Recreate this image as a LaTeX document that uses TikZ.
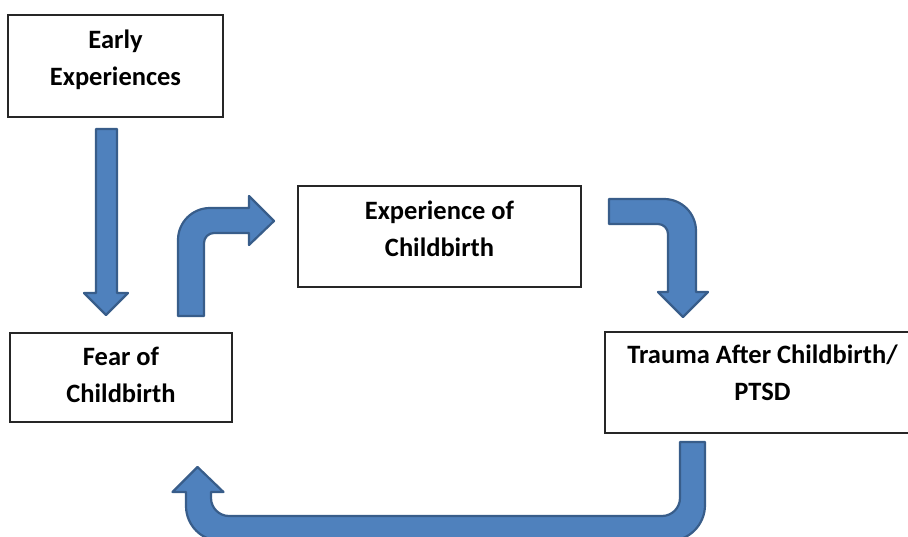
\documentclass[tikz,border=0pt]{standalone}
\usepackage{fontspec}
\setmainfont{Carlito}
\usepackage{tikz}
\usetikzlibrary{positioning,calc}
\definecolor{arrowfill}{RGB}{79,129,189}
\definecolor{arrowline}{RGB}{56,93,138}

\begin{document}
\begin{tikzpicture}[x=1pt, y=-1pt,
	box/.style={draw=black!85, line width=1.1pt, inner sep=0pt},
	boxtext/.style={font=\fontsize{26.5}{37.5}\selectfont\bfseries, align=center, inner sep=0pt},
	blockarrow/.style={fill=arrowfill, draw=arrowline, line width=2.2pt, line join=round}]
\useasboundingbox (0,0) rectangle (908,536);
\clip (0,0) rectangle (908,536);

% The four boxes, each drawn as an empty frame with its text on top.
\node[box, minimum width=215, minimum height=102] (early) at (115.5,66) {};
\node[box, minimum width=283, minimum height=101] (exper) at (439.5,236.5) {};
\node[box, minimum width=222, minimum height=89] (fear) at (121,377.5) {};
\node[box, minimum width=315, minimum height=101] (trauma) at (762.5,382.5) {};

\node[boxtext] (earlytxt) at (115.5,60) {Early\\Experiences};
\node[boxtext] (expertxt) at (439.5,229) {Experience of\\Childbirth};
\node[boxtext] (feartxt) at (121,375) {Fear of\\Childbirth};
\node[boxtext] (traumatxt) at (762.5,373) {Trauma After Childbirth/\\PTSD};

% Straight block arrow down from the first box.
\draw[blockarrow] (96,129) -- (117,129) -- (117,293) -- (128,293) -- (106,315)
	-- (84,293) -- (96,293) -- cycle;

% Bent arrow going up and then to the right.
\draw[blockarrow] (178,316) -- (178,240) .. controls (178,222.3) and (192.3,208) .. (210,208)
	-- (249,208) -- (249,196) -- (274,221) -- (249,245) -- (249,233) -- (214,233)
	.. controls (208.5,233) and (204,237.5) .. (204,243) -- (204,316) -- cycle;

% Bent arrow going right and then down.
\draw[blockarrow] (609,199) -- (664,199) .. controls (681.7,199) and (696,213.3) .. (696,231)
	-- (696,292) -- (708,292) -- (683,317) -- (658,292) -- (668,292) -- (668,234)
	.. controls (668,228.5) and (663.5,224) .. (658,224) -- (609,224) -- cycle;

% U-turn arrow along the bottom, back up to the fear box.
\draw[blockarrow] (680,442) -- (705,442) -- (705,505)
	.. controls (705,524.9) and (688.9,541) .. (669,541) -- (221,541)
	.. controls (201.7,541) and (186,525.3) .. (186,506) -- (186,492) -- (172.5,492)
	-- (197.5,467) -- (223.5,492) -- (211,492) -- (211,498)
	.. controls (211,507.9) and (219.1,516) .. (229,516) -- (662,516)
	.. controls (671.9,516) and (680,507.9) .. (680,498) -- cycle;
\end{tikzpicture}
\end{document}
